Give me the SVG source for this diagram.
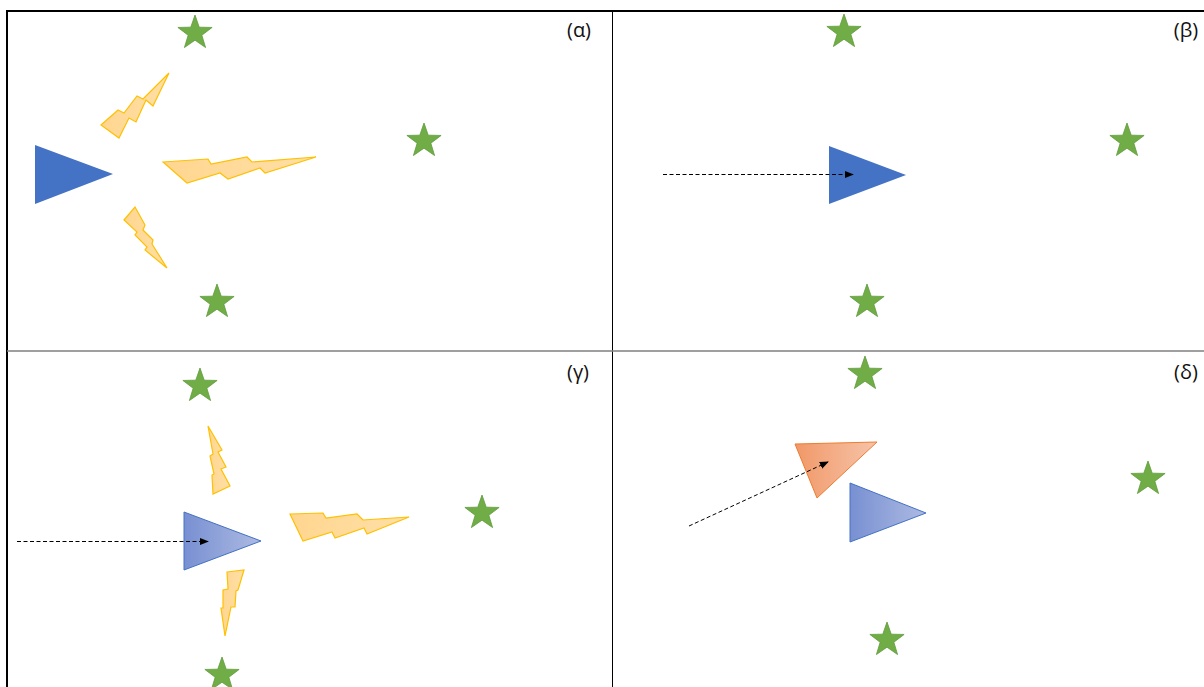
<svg xmlns="http://www.w3.org/2000/svg" xmlns:xlink="http://www.w3.org/1999/xlink" width="1204" height="687" viewBox="0 0 1204 687">
<style>
.star{fill:#70AD47;stroke:#5F9A3B;stroke-width:0.8}
.bolt{fill:url(#gBolt);stroke:#FFC000;stroke-width:1.2;stroke-linejoin:miter}
.lbl{font-family:"Open Sans","Liberation Sans",sans-serif;font-size:20px;fill:#111;text-anchor:middle}
.dash{fill:none;stroke:#000;stroke-width:1;stroke-dasharray:4 2.5}
</style>
<defs>
<path id="star" d="M0,-18 L4.23,-5.82 L17.12,-5.56 L6.85,2.22 L10.58,14.56 L0,7.2 L-10.58,14.56 L-6.85,2.22 L-17.12,-5.56 L-4.23,-5.82 Z"/>
<linearGradient id="gBolt" x1="0" y1="0" x2="1" y2="0">
<stop offset="0" stop-color="#FFD690"/><stop offset="1" stop-color="#FFDFA6"/>
</linearGradient>
<linearGradient id="gBlue" x1="0" y1="0" x2="1" y2="0">
<stop offset="0" stop-color="#7890D2"/><stop offset="1" stop-color="#ADBAE2"/>
</linearGradient>
<linearGradient id="gOrange" x1="0" y1="0" x2="1" y2="0">
<stop offset="0" stop-color="#F19868"/><stop offset="1" stop-color="#F6C4A9"/>
</linearGradient>
<marker id="ah" viewBox="0 0 10 10" refX="9" refY="5" markerWidth="9" markerHeight="9" markerUnits="userSpaceOnUse" orient="auto">
<path d="M0,1 L10,5 L0,9 Z" fill="#000"/>
</marker>
</defs>
<rect x="0" y="0" width="1204" height="687" fill="#fff"/>
<g id="frame">
<line x1="7" y1="11" x2="1204" y2="11" stroke="#000" stroke-width="2"/>
<line x1="7" y1="10" x2="7" y2="687" stroke="#000" stroke-width="2"/>
<line x1="612.5" y1="11" x2="612.5" y2="687" stroke="#000" stroke-width="1"/>
<line x1="7" y1="351" x2="1204" y2="351" stroke="#7F7F7F" stroke-width="1.5"/>
</g>
<g id="labels">
<text class="lbl" x="579" y="37">(α)</text>
<text class="lbl" x="1186" y="37">(β)</text>
<text class="lbl" x="578" y="379">(γ)</text>
<text class="lbl" x="1186" y="379">(δ)</text>
</g>
<g id="panel-alpha">
<g id="a-star1"><use href="#star" class="star" x="195" y="33"/></g>
<g id="a-star2"><use href="#star" class="star" x="424" y="141"/></g>
<g id="a-star3"><use href="#star" class="star" x="217" y="302"/></g>
<g id="a-tri"><polygon points="35,145 35,204 113,174" fill="#4472C4"/></g>
<g id="a-bolt1"><polygon class="bolt" points="169,73 153,106 146,100 136,122 129,118 119,138 101,125 118,110 124,113 137,96 143,99"/></g>
<g id="a-bolt2"><polygon class="bolt" points="163,162 208,159 211,164 247,157 252,162 316,157 265,173 260,168 228,179 220,173 187,183"/></g>
<g id="a-bolt3"><polygon class="bolt" points="124,220 135,207 145,225 143,230 153,240 152,244 167,268 145,250 147,247 135,235 137,232"/></g>
</g>
<g id="panel-beta">
<g id="b-star1"><use href="#star" class="star" x="844" y="32"/></g>
<g id="b-star2"><use href="#star" class="star" x="1127" y="141"/></g>
<g id="b-star3"><use href="#star" class="star" x="867" y="302"/></g>
<g id="b-tri"><polygon points="829,146 829,204 906,175" fill="#4472C4"/></g>
</g>
<g id="panel-gamma">
<g id="g-star1"><use href="#star" class="star" x="200" y="386"/></g>
<g id="g-star2"><use href="#star" class="star" x="482" y="513"/></g>
<g id="g-star3"><use href="#star" class="star" x="222" y="675"/></g>
<g id="g-tri"><polygon points="184,512 184,570 261,541" fill="url(#gBlue)" stroke="#4472C4" stroke-width="1"/></g>
<g id="g-bolt1"><polygon class="bolt" points="208,426 222,450 218,452 226,467 221,469 230,486 213,494 212,475 214,474 210,456 213,454"/></g>
<g id="g-bolt2"><polygon class="bolt" points="290,514 323,513 326,518 357,514 363,520 409,517 367,534 364,528 335,538 332,532 303,541"/></g>
<g id="g-bolt3"><polygon class="bolt" points="227,572 244,570 238,590 236,591 235,607 231,607 225,636 221,608 223,608 223,590 228,589"/></g>
</g>
<g id="panel-delta">
<g id="d-star1"><use href="#star" class="star" x="865" y="374"/></g>
<g id="d-star2"><use href="#star" class="star" x="1148" y="479"/></g>
<g id="d-star3"><use href="#star" class="star" x="887" y="640"/></g>
<g id="d-tri-blue"><polygon points="850,483 850,542 926,513" fill="url(#gBlue)" stroke="#4472C4" stroke-width="1"/></g>
<g id="d-tri-orange"><polygon points="795,444 877,442 817,498" fill="url(#gOrange)" stroke="#ED7D31" stroke-width="1"/></g>
</g>
<g id="connectors">
<line class="dash" x1="663" y1="174.5" x2="853" y2="174.5" marker-end="url(#ah)"/>
<line class="dash" x1="17" y1="541.5" x2="208" y2="541.5" marker-end="url(#ah)"/>
<line class="dash" x1="689" y1="526" x2="828" y2="462" marker-end="url(#ah)"/>
</g>
</svg>
